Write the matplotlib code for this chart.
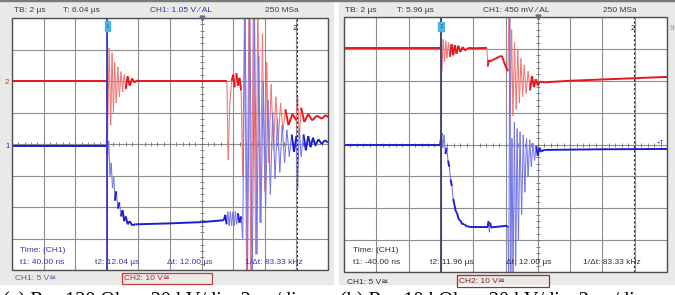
import numpy as np
import matplotlib
matplotlib.use('Agg')
import matplotlib.pyplot as plt
from matplotlib.collections import LineCollection
from matplotlib.patches import Rectangle

# ---- data (time in us relative to cursor t1, amplitude in divisions 0..8) ----
# panel (a): R = 120 Ohm
a_red_t = [-6.0, -0.05, 0.0, 0.05, 0.15, 0.25, 0.33, 0.42, 0.5, 0.6, 0.7, 0.8, 0.9, 1.0, 1.1, 1.2,
           1.32, 1.45, 1.6, 1.75, 1.9, 2.0, 7.6, 7.68, 7.78, 7.9, 8.0, 8.1, 8.2, 8.3, 8.4, 8.5, 8.6,
           8.72, 8.85, 9.0, 9.12, 9.28, 9.42, 9.56, 9.7, 9.85, 10.0, 10.12, 10.25, 10.4, 10.55, 10.7,
           10.85, 11.0, 11.15, 11.3, 11.5, 11.75, 12.0, 12.08, 12.18, 12.3, 12.5, 12.75, 13.0, 13.3,
           13.6, 13.85, 14.0]
a_red_v = [6.0, 6.0, 6.0, 4.4, 7.05, 4.6, 6.9, 5.0, 6.6, 5.3, 6.45, 5.5, 6.3, 5.65, 6.2, 5.75,
           6.15, 5.85, 6.08, 5.95, 6.02, 6.0, 6.0, 3.5, 5.2, 6.0, 6.2, 5.8, 6.25, 5.85, 6.1, 5.7, 3.0,
           8.6, -0.5, 8.6, -0.5, 8.6, 0.5, 8.6, 1.5, 7.5, 2.5, 6.6, 3.4, 5.9, 3.8, 5.5,
           4.1, 5.3, 4.4, 5.1, 4.6, 4.95, 4.75, 5.5, 4.2, 5.15, 4.7, 4.95, 4.75, 4.9,
           4.8, 4.92, 4.85]
a_blue_t = [-6.0, -0.05, 0.0, 0.06, 0.12, 0.2, 0.28, 0.36, 0.44, 0.52, 0.6, 0.7, 0.8, 0.9, 1.0,
            1.1, 1.2, 1.32, 1.45, 1.6, 1.8, 4.0, 6.0, 7.4, 7.5, 7.58, 7.66, 7.74, 7.82, 7.9, 7.98,
            8.06, 8.14, 8.22, 8.3, 8.4, 8.5, 8.6, 8.75, 8.9, 9.05, 9.2, 9.35, 9.5, 9.62, 9.75, 9.9,
            10.05, 10.2, 10.35, 10.5, 10.65, 10.8, 10.95, 11.1, 11.25, 11.4, 11.55, 11.7, 11.85,
            12.0, 12.08, 12.18, 12.3, 12.45, 12.6, 12.75, 12.9, 13.05, 13.2, 13.4, 13.6, 13.8, 14.0]
a_blue_v = [3.94, 3.94, 4.35, 3.6, 4.1, 3.0, 3.4, 2.6, 2.95, 2.2, 2.5, 1.95, 2.15, 1.7, 1.9,
            1.55, 1.7, 1.45, 1.55, 1.42, 1.45, 1.48, 1.52, 1.58, 1.75, 1.45, 1.85, 1.4, 1.85, 1.4, 1.85,
            1.4, 1.85, 1.45, 1.8, 1.5, 1.7, 1.0, 8.6, -0.5, 8.6, -0.5, 8.0, 0.5, 6.8, 1.5, 6.0,
            2.0, 5.4, 2.4, 5.0, 2.9, 4.8, 3.1, 4.6, 3.4, 4.45, 3.6, 4.3, 3.75,
            4.25, 2.6, 4.5, 3.6, 4.3, 3.8, 4.25, 3.9, 4.2, 3.95, 4.15, 4.0, 4.12, 4.05]

# panel (b): R = 10 kOhm
b_red_t = [-6.0, -0.05, 0.0, 0.06, 0.14, 0.22, 0.3, 0.38, 0.46, 0.56, 0.66, 0.76, 0.86, 0.96,
           1.08, 1.2, 1.35, 1.5, 1.7, 2.0, 2.85, 2.9, 2.96, 3.05, 3.2, 3.4, 3.6, 3.78, 3.9, 4.05,
           4.15, 4.22, 4.3, 4.38, 4.46, 4.56, 4.66, 4.76, 4.86, 4.96, 5.06, 5.16, 5.28, 5.4, 5.52,
           5.64, 5.76, 5.88, 6.0, 6.12, 6.4, 8.0, 10.0, 12.0, 14.0]
b_red_v = [7.02, 7.02, 7.35, 6.3, 7.3, 6.6, 7.25, 6.7, 7.2, 6.75, 7.15, 6.8, 7.12, 6.85,
           7.1, 6.9, 7.06, 6.95, 7.03, 7.02, 7.03, 6.45, 6.65, 6.6, 6.65, 6.7, 6.75, 6.78, 6.6, 6.4,
           6.3, 8.3, 4.9, 7.6, 4.9, 7.2, 5.1, 7.0, 5.3, 6.7, 5.5, 6.5, 5.6, 6.3, 5.7,
           6.15, 5.8, 6.05, 5.85, 5.97, 5.95, 6.0, 6.04, 6.08, 6.12]
b_blue_t = [-6.0, -0.05, 0.05, 0.12, 0.2, 0.28, 0.36, 0.44, 0.52, 0.6, 0.68, 0.76, 0.84, 0.92,
            1.0, 1.1, 1.2, 1.32, 1.45, 1.6, 1.8, 2.9, 2.95, 3.0, 3.05, 3.1, 4.1, 4.15, 4.2, 4.27,
            4.33, 4.4, 4.47, 4.55, 4.63, 4.72, 4.8, 4.9, 5.0, 5.1, 5.2, 5.3, 5.4, 5.5, 5.6, 5.7,
            5.8, 5.9, 6.0, 6.1, 6.2, 6.4, 10.0, 14.0]
b_blue_v = [3.98, 3.98, 4.36, 3.9, 4.3, 3.7, 3.9, 3.5, 3.3, 2.9, 2.7, 2.3, 2.1, 1.9,
            1.85, 1.65, 1.62, 1.5, 1.5, 1.43, 1.42, 1.42, 1.6, 1.25, 1.55, 1.4, 1.45, 1.4, -0.5, 8.5,
            -0.5, 4.2, -0.5, 4.7, 0.2, 4.5, 1.0, 4.4, 1.8, 4.3, 2.5, 4.2, 3.0, 4.15, 3.3, 4.05,
            3.5, 3.95, 3.65, 3.9, 3.78, 3.83, 3.85, 3.86]

a_header = ['TB: 2 µs', 'T: 6.04 µs', 'CH1: 1.05 V ⁄ AL', '250 MSa']
b_header = ['TB: 2 µs', 'T: 5.96 µs', 'CH1: 450 mV ⁄ AL', '250 MSa']
a_meas = ['t1: 40.00 ns', 't2: 12.04 µs', 'Δt: 12.00 µs', '1/Δt: 83.33 kHz']
b_meas = ['t1: -40.00 ns', 't2: 11.96 µs', 'Δt: 12.00 µs', '1/Δt: 83.33 kHz']
a_t2 = 12.04
b_t2 = 11.96
a_caption = '(a) R = 120 Ohm, 20 kV/div, 2 µs/div'
b_caption = '(b) R = 10 kOhm, 20 kV/div, 2 µs/div'

W, H = 675, 295
FONT = ['Liberation Sans', 'DejaVu Sans']
GRID = '#8e8e8e'
PANEL = '#e7eae7'

fig = plt.figure(figsize=(W / 100, H / 100), dpi=100)


def box(x0, y0, x1, y1):
    return [x0 / W, 1 - y1 / H, (x1 - x0) / W, (y1 - y0) / H]


def ftext(x, y, s, **kw):
    kw.setdefault('va', 'center')
    kw.setdefault('family', FONT)
    kw.setdefault('fontsize', 6)
    fig.text(x / W, 1 - y / H, s, **kw)


def frect(x0, y0, x1, y1, **kw):
    fig.add_artist(Rectangle((x0 / W, 1 - y1 / H), (x1 - x0) / W, (y1 - y0) / H,
                             transform=fig.transFigure, **kw))


def trace(ax, t, v, main, pale):
    # steep (fast ringing) segments look fainter on the scope screen
    pts = np.column_stack([t, v])
    disp = ax.transData.transform(pts)
    d = np.diff(disp, axis=0)
    steep = np.abs(d[:, 1]) > 8.0 * np.abs(d[:, 0])
    segs = np.stack([pts[:-1], pts[1:]], axis=1)
    ax.add_collection(LineCollection(segs[steep], colors=pale, linewidths=0.75, zorder=3))
    ax.add_collection(LineCollection(segs[~steep], colors=main, linewidths=1.4, zorder=4))


def scope(rect_px, red_t, red_v, blue_t, blue_v, cursor_col):
    ax = fig.add_axes(box(*rect_px))
    ax.set_xlim(-6, 14)
    ax.set_ylim(0, 8)
    ax.axis('off')
    ax.add_patch(Rectangle((0, 0), 1, 1, transform=ax.transAxes, color='white', zorder=0))
    for x in np.arange(-6, 14.1, 2):
        ax.axvline(x, color=GRID, lw=0.8, zorder=1)
    for y in range(9):
        ax.axhline(y, color=GRID, lw=0.8, zorder=1)
    ticks_x = np.arange(-6, 14.01, 0.4)
    ticks_y = np.arange(0, 8.01, 0.2)
    ax.plot(ticks_x, np.full(len(ticks_x), 4), ls='none', marker='|', ms=3.5, mew=0.6,
            color='#707070', zorder=1.5)
    ax.plot(np.full(len(ticks_y), 6), ticks_y, ls='none', marker='_', ms=3.5, mew=0.6,
            color='#707070', zorder=1.5)
    ax.add_patch(Rectangle((0, 0), 1, 1, transform=ax.transAxes, fill=False,
                           ec='#505050', lw=1.0, zorder=6, clip_on=False))
    trace(ax, red_t, red_v, '#e6161e', '#f07474')
    trace(ax, blue_t, blue_v, '#1e1ecf', '#7474ea')
    ax.axvline(0, color=cursor_col, lw=1.3, zorder=5)
    ax.plot([6], [8], marker='v', ms=3.5, color='#6a6a8a', clip_on=False, zorder=7)
    return ax


# panel backgrounds
frect(0, 1, 333, 284, color=PANEL, zorder=0)
frect(339, 1, 675, 284, color=PANEL, zorder=0)
frect(0, 0, 675, 1.2, color='#7a7a7a', zorder=0)

ax_a = scope((12, 18, 328, 270), a_red_t, a_red_v, a_blue_t, a_blue_v, '#3a3ab8')
ax_b = scope((344, 17, 667, 272), b_red_t, b_red_v, b_blue_t, b_blue_v, '#3d3d70')
ax_a.axvline(a_t2, color='#303030', lw=0.8, ls=(0, (2, 2)), zorder=5)
ax_b.axvline(b_t2, color='#303030', lw=0.8, ls=(0, (2, 2)), zorder=5)

# headers
for x, s in zip([14, 63, 150, 265], a_header):
    ftext(x, 11, s, color='#3434a0' if s.startswith('CH1') else '#404040')
for x, s in zip([345, 397, 483, 603], b_header):
    ftext(x, 10, s, color='#383838')

# measurement readouts
ftext(20, 250, 'Time: (CH1)', color='#3838a8')
for x, s in zip([20, 95, 167, 245], a_meas):
    ftext(x, 262, s, color='#3838a8')
ftext(353, 251, 'Time: (CH1)', color='#303030')
for x, s in zip([353, 430, 506, 583], b_meas):
    ftext(x, 262, s, color='#303030')

# channel bars
ftext(15, 278, 'CH1: 5 V≅', color='#5a5aa8')
frect(122, 273, 212, 284, fill=False, ec='#c04040', lw=0.9, zorder=3)
ftext(124, 278.5, 'CH2: 10 V≅', color='#d02020')
ftext(347, 282, 'CH1: 5 V≅', color='#303030')
frect(457, 275, 549, 287, fill=False, ec='#a03030', lw=0.9, zorder=3)
ftext(459, 281.5, 'CH2: 10 V≅', color='#902020')

# cursor flags
frect(105, 21, 110, 31, color='#4db4e6', zorder=8)
ftext(107.5, 26, '1', ha='center', fontsize=4.5, color='#1a5a8a', zorder=9)
frect(438, 22, 444, 31, color='#4db4e6', zorder=8)
ftext(441, 26.5, '1', ha='center', fontsize=4.5, color='#1a5a8a', zorder=9)
ftext(295, 28, '2', ha='center', fontsize=5.5, color='#202020', zorder=9)
ftext(633, 28, '2', ha='center', fontsize=5.5, color='#202020', zorder=9)

# channel level markers
ftext(5, 82, '2', fontsize=5.5, color='#e02020')
ftext(5, 146, '1', fontsize=5.5, color='#2020c0')
ftext(657, 142, '+T', fontsize=4.5, color='#2020c0', zorder=9)
ftext(670, 28, '9', fontsize=6, color='#909090')

# captions (cut off at the bottom edge, as in the source image)
ftext(3, 306, a_caption, va='baseline', family=['Liberation Serif', 'DejaVu Serif'],
      fontsize=14.5, color='black')
ftext(340, 306, b_caption, va='baseline', family=['Liberation Serif', 'DejaVu Serif'],
      fontsize=14.5, color='black')

fig.savefig('out.png', dpi=100)
